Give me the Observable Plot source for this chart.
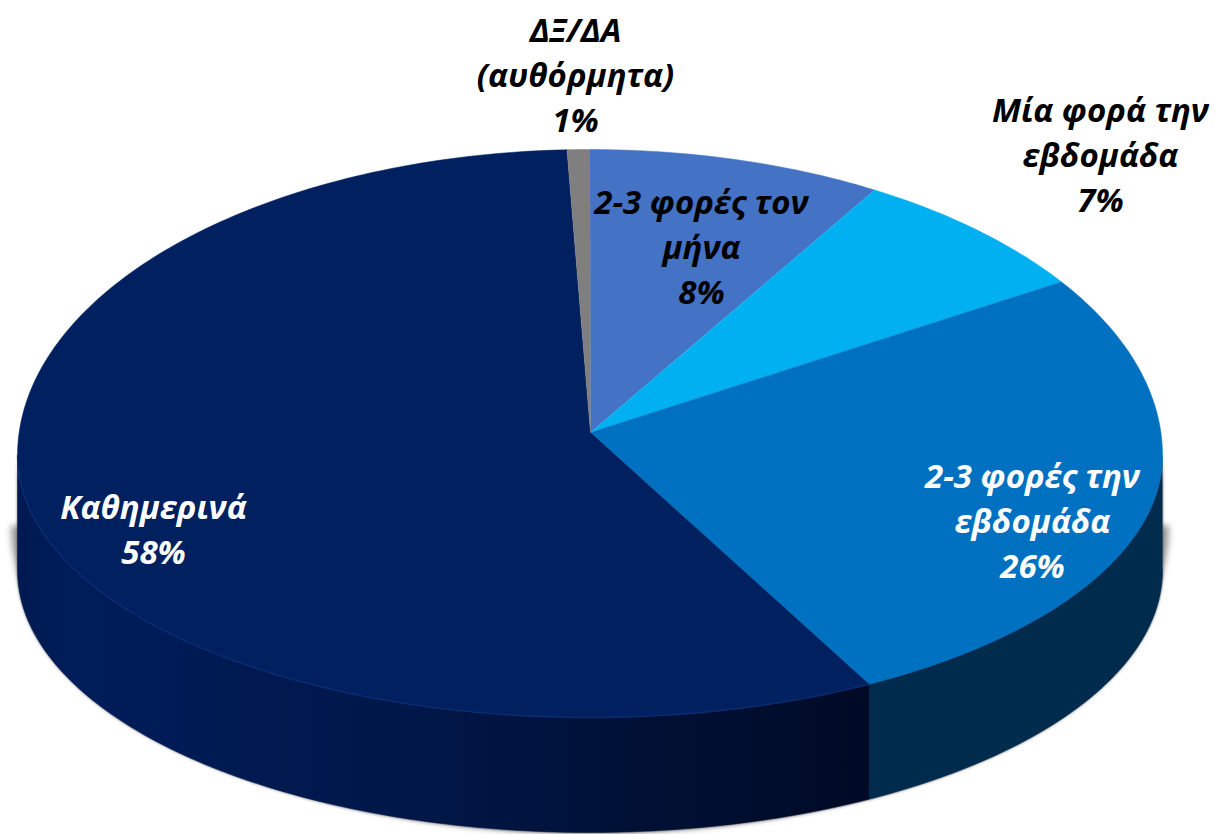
<!DOCTYPE html>
<html lang="el">
<head>
<meta charset="utf-8">
<style>html,body{margin:0;padding:0;background:#fff;overflow:hidden}svg{display:block}</style>
<script src="https://cdn.jsdelivr.net/npm/d3@7"></script>
<script src="https://cdn.jsdelivr.net/npm/@observablehq/plot@0.6"></script>
</head>
<body>
<div id="chart"></div>
<script>
// Data: clockwise from 12 o'clock
const categories = ["2-3 φορές τον\nμήνα", "Μία φορά την\nεβδομάδα", "2-3 φορές την\nεβδομάδα", "Καθημερινά", "ΔΞ/ΔΑ\n(αυθόρμητα)"];
const percents = [8, 7, 26, 58, 1];
// slice shares as drawn in the picture (perspective widens some of them)
const drawnShares = [8.28, 7.12, 26.5, 57.46, 0.64];
const sliceColors = ["#4472C4", "#00B0F0", "#0070C0", "#002060", "#7F7F7F"];
const labelColors = ["#000", "#000", "#fff", "#fff", "#000"];
const sideFills = ["#2a4a80", "#006a90", "#002B4D", "url(#sideDaily)", "#555"];

// Layout
const W = 1215, H = 834;
const pivot = [590, 432], cx = 589.5, cy = 455, rx = 572.5, ryBack = 306, ryFront = 262, depth = 115;
const labelX = [701, 1100, 1032, 153, 575];
const labelY = [180, 88, 454, 485, 8];

const rim = (t, extra = 0) => {
  const a = t * 2 * Math.PI, c = Math.cos(a);
  return {x: cx + rx * Math.sin(a), y: cy - (c > 0 ? ryBack : ryFront) * c + extra};
};
const arcPoints = (t0, t1, extra = 0) => {
  const n = Math.max(2, Math.ceil((t1 - t0) * 360));
  return d3.range(n + 1).map((i) => rim(t0 + (t1 - t0) * i / n, extra));
};
const total = d3.sum(drawnShares);
let acc = 0;
const slices = drawnShares.map((v, i) => {
  const t0 = acc / total; acc += v; const t1 = acc / total;
  return {t0, t1, i};
});
const topShape = (s) => [{x: pivot[0], y: pivot[1]}, ...arcPoints(s.t0, s.t1)];
const sideShape = (s) => {
  const a = Math.max(s.t0, 0.25), b = Math.min(s.t1, 0.75);
  if (b <= a) return [];
  return [...arcPoints(a, b), ...arcPoints(a, b, depth).reverse()];
};
const silhouette = [...arcPoints(0.25, 0.75), ...arcPoints(0.25, 0.75, depth).reverse()];
const softShadow = arcPoints(0.25, 0.75).map((_, i) => {
  const a = (0.25 + 0.5 * i / 180) * 2 * Math.PI;
  return {x: cx + 579 * Math.sin(a), y: 525 - 308 * Math.cos(a)};
});

const defs = () => {
  const d = d3.create("svg:defs");
  const g = d.append("linearGradient").attr("id", "sideDaily").attr("gradientUnits", "userSpaceOnUse")
    .attr("x1", 17).attr("x2", 868).attr("y1", 0).attr("y2", 0);
  [[0, "#001A50"], [0.06, "#001D5A"], [0.25, "#001A52"], [0.5, "#001646"], [0.75, "#001034"], [1, "#000A26"]]
    .forEach(([o, c]) => g.append("stop").attr("offset", o).attr("stop-color", c));
  return d.node();
};

const lineOpts = {x: "x", y: "y"};
const plot = Plot.plot({
  width: W, height: H, margin: 0,
  x: {domain: [0, W], range: [0, W], axis: null},
  y: {domain: [0, H], range: [0, H], axis: null},
  marks: [
    defs,
    Plot.line(softShadow, {...lineOpts, fill: "#555", fillOpacity: 0.6, stroke: "none"}),
    Plot.line(silhouette, {...lineOpts, fill: "#333", fillOpacity: 0.8, stroke: "none"}),
    ...slices.map((s) => Plot.line(sideShape(s), {...lineOpts, fill: sideFills[s.i], stroke: sideFills[s.i], strokeWidth: 0.5})),
    ...slices.map((s) => Plot.line(topShape(s), {...lineOpts, fill: sliceColors[s.i], stroke: sliceColors[s.i], strokeWidth: 0.5})),
    Plot.line(arcPoints(slices[3].t0, 0.75), {...lineOpts, stroke: "#0d2f78", strokeWidth: 1.4, strokeOpacity: 0.8}),
    Plot.text(categories.map((c, i) => ({t: `${c}\n${percents[i]}%`, x: labelX[i], y: labelY[i] + 1, c: labelColors[i]})), {
      x: "x", y: "y", text: "t", fill: (d) => d.c, textAnchor: "middle", lineAnchor: "top", lineHeight: 1.37,
      fontFamily: "'Open Sans'", fontWeight: 700, fontStyle: "italic", fontSize: 33
    })
  ],
  color: {type: "identity"}
});
// soft edges of the two shadow shapes (the first two line groups)
const lineGroups = plot.querySelectorAll('g[aria-label="line"]');
lineGroups[0].style.filter = "blur(3px)";
lineGroups[1].style.filter = "blur(1.6px)";
document.getElementById("chart").append(plot);
</script>
</body>
</html>
